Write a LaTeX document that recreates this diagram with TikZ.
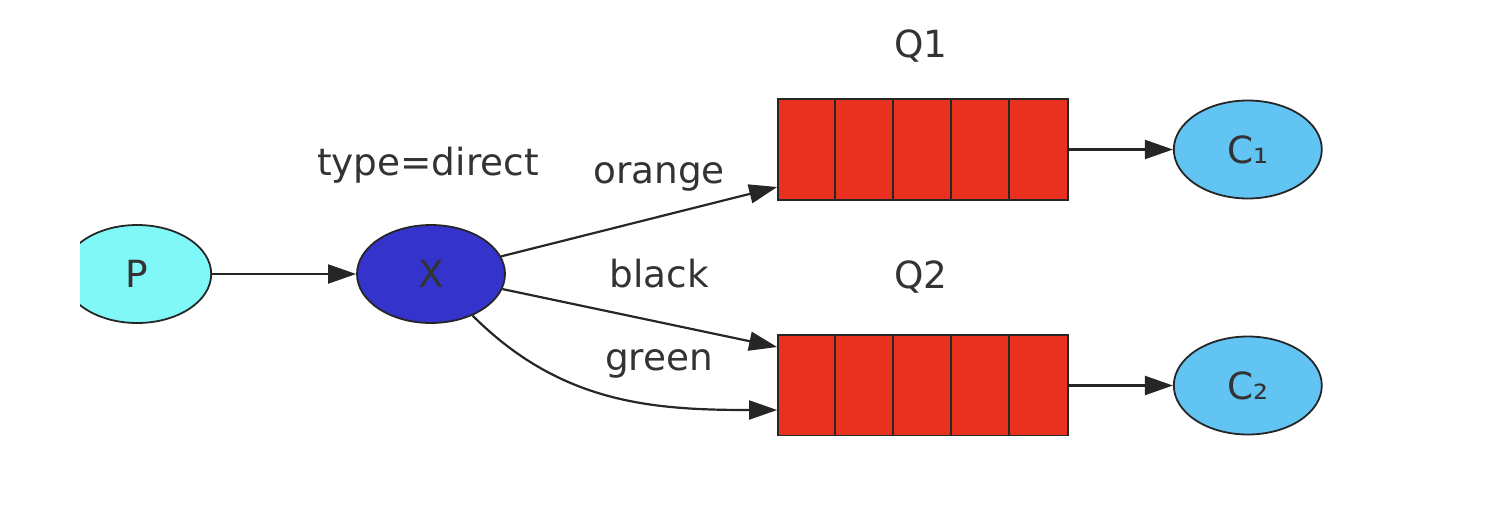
\documentclass[tikz,border=0pt]{standalone}
\usepackage{fontspec}
\setmainfont{DejaVu Sans}
\usetikzlibrary{arrows.meta,positioning,shapes.geometric}
\definecolor{prodcyan}{HTML}{80F8F8}
\definecolor{exchblue}{HTML}{3434CC}
\definecolor{queuered}{HTML}{E8321F}
\definecolor{conssky}{HTML}{62C4F2}
\definecolor{inkgray}{HTML}{333333}

\begin{document}
\begin{tikzpicture}[x=0.5pt, y=-0.5pt, node distance=72pt,
  font=\fontsize{18.7}{22}\selectfont, text=inkgray,
  party/.style={draw=black!85, line width=0.9pt, ellipse, minimum width=74pt, minimum height=49pt, inner sep=0pt},
  queue/.style={draw=black!85, line width=0.9pt, fill=queuered, minimum width=145pt, minimum height=50.5pt, inner sep=0pt},
  link/.style={-{Triangle[length=14pt,width=9.5pt]}, line width=1.1pt, draw=black!85},
  lbl/.style={anchor=base}]
\useasboundingbox (0,0) rectangle (1508,520);
\begin{scope}
\clip (80,0) rectangle (1508,435);
\node[party, fill=exchblue] (x) at (431,274) {X};
\node[party, fill=prodcyan, left=of x] (p) {P};
\node[queue] (q1) at (923,149.5) {};
\node[queue] (q2) at (923,385.5) {};
\foreach \q in {q1,q2}
  \foreach \i in {1,...,4}
    \draw[black!85, line width=0.9pt] ([xshift=\i*29pt]\q.north west) -- ([xshift=\i*29pt]\q.south west);
\node[party, fill=conssky, right=52pt of q1] (c1) {C₁};
\node[party, fill=conssky, right=52pt of q2] (c2) {C₂};
\node[lbl] (tdirect) at (428,175) {type=direct};
\node[lbl] (lorange) at (659,183) {orange};
\node[lbl] (lblack) at (659,287) {black};
\node[lbl] (lgreen) at (659,370) {green};
\node[lbl] (n1) at (921,57) {Q1};
\node[lbl] (n2) at (921,288) {Q2};
\draw[link] (p) -- (x);
\draw[link] (x) -- ([yshift=-18.75pt]q1.west);
\draw[link] (x) -- ([yshift=19.25pt]q2.west);
\draw[link] (x.-45) to[out=-45, in=180] ([yshift=-12.25pt]q2.west);
\draw[link] (q1) -- (c1);
\draw[link] (q2) -- (c2);
\end{scope}
\end{tikzpicture}
\end{document}
